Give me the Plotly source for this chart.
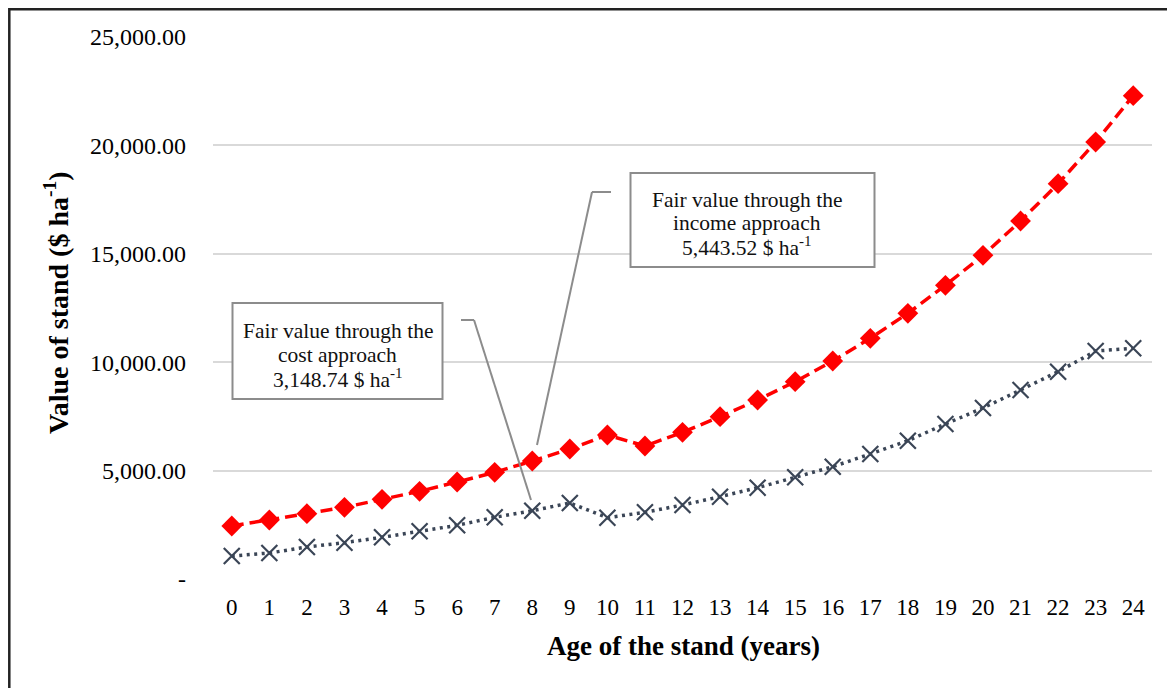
import plotly.graph_objects as go

ages = list(range(25))
income_values = [2445, 2721, 3012, 3305, 3675, 4044, 4474, 4920, 5443.52, 5996, 6642, 6135, 6766,
                 7487, 8256, 9101, 10055, 11101, 12254, 13546, 14930, 16513, 18234, 20157, 22293]
cost_values = [1061, 1199, 1476, 1676, 1922, 2199, 2476, 2845, 3148.74, 3506, 2829, 3075, 3413,
               3796, 4213, 4690, 5181, 5766, 6381, 7149, 7887, 8718, 9562, 10516, 10640]
y_tick_vals = [0, 5000, 10000, 15000, 20000, 25000]
y_tick_text = ["-", "5,000.00", "10,000.00", "15,000.00", "20,000.00", "25,000.00"]
income_label = ["Fair value through the", "income approach", "5,443.52 $ ha<sup>-1</sup>"]
cost_label = ["Fair value through the", "cost approach", "3,148.74 $ ha<sup>-1</sup>"]

OFF = 8  # page body margin
W, H = 1175 - OFF, 688 - OFF
L, R, T, B = 213 - OFF, 1152 - OFF, 37 - OFF, 579 - OFF


def px(x):
    return (x - OFF - L) / (R - L)


def py(y):
    return (B - (y - OFF)) / (B - T)


FONT = "Liberation Serif, Times New Roman, serif"

fig = go.Figure()
fig.add_trace(go.Scatter(
    x=ages, y=cost_values, mode="lines+markers", name="Cost approach",
    line=dict(color="#3a4556", width=3.5, dash="3px,4.5px"),
    marker=dict(symbol="x-thin-open", size=16, line=dict(color="#3a4556", width=2.2)),
))
fig.add_trace(go.Scatter(
    x=ages, y=income_values, mode="lines+markers", name="Income approach",
    line=dict(color="#ff0000", width=3.5, dash="12px,6px"),
    marker=dict(symbol="diamond", size=16, color="#ff0000"),
))

shapes = []
gray = "#8c8c8c"
# leader lines
shapes.append(dict(type="line", xref="paper", yref="paper", x0=px(592), y0=py(192), x1=px(611), y1=py(192),
                   line=dict(color=gray, width=2)))
shapes.append(dict(type="line", xref="paper", yref="paper", x0=px(592), y0=py(192), x1=px(537), y1=py(445),
                   line=dict(color=gray, width=2)))
shapes.append(dict(type="line", xref="paper", yref="paper", x0=px(461), y0=py(320), x1=px(474), y1=py(320),
                   line=dict(color=gray, width=2)))
shapes.append(dict(type="line", xref="paper", yref="paper", x0=px(474), y0=py(320), x1=px(531), y1=py(500),
                   line=dict(color=gray, width=2)))
# label boxes
shapes.append(dict(type="rect", xref="paper", yref="paper", x0=px(630.5), y0=py(267), x1=px(874.5), y1=py(173),
                   line=dict(color=gray, width=2), fillcolor="white"))
shapes.append(dict(type="rect", xref="paper", yref="paper", x0=px(232.5), y0=py(399), x1=px(442.5), y1=py(303),
                   line=dict(color=gray, width=2), fillcolor="white"))
# outer frame
shapes.append(dict(type="rect", xref="paper", yref="paper", x0=px(9.3), y0=py(720), x1=px(1200), y1=py(9.3),
                   line=dict(color="#222222", width=2.5), fillcolor="rgba(0,0,0,0)"))

annotations = []
for txt, yc in zip(income_label, [200, 223.5, 247]):
    annotations.append(dict(xref="paper", yref="paper", x=px(747), y=py(yc), xanchor="center", yanchor="middle",
                            text=txt, showarrow=False, font=dict(family=FONT, size=21.5, color="#111")))
for txt, yc in zip(cost_label, [331, 354.5, 378]):
    annotations.append(dict(xref="paper", yref="paper", x=px(337.5), y=py(yc), xanchor="center", yanchor="middle",
                            text=txt, showarrow=False, font=dict(family=FONT, size=21.5, color="#111")))
annotations += [
    dict(xref="paper", yref="paper", x=px(56), y=py(303), xanchor="center", yanchor="middle",
         text="<b>Value of stand ($ ha<sup>-1</sup>)</b>", textangle=-90, showarrow=False,
         font=dict(family=FONT, size=28, color="#000")),
    dict(xref="paper", yref="paper", x=px(683), y=py(646), xanchor="center", yanchor="middle",
         text="<b>Age of the stand (years)</b>", showarrow=False,
         font=dict(family=FONT, size=27, color="#000")),
]

fig.update_layout(
    width=W, height=H,
    margin=dict(l=L, r=W - R, t=T, b=H - B),
    paper_bgcolor="white", plot_bgcolor="white",
    showlegend=False,
    shapes=shapes, annotations=annotations,
    font=dict(family=FONT, color="#000"),
)
fig.update_xaxes(range=[-0.5, 24.5], tickmode="array", tickvals=ages, ticktext=[str(a) for a in ages],
                 showgrid=False, zeroline=False, showline=False, ticks="",
                 ticklabelstandoff=12, tickfont=dict(family=FONT, size=23, color="#000"))
fig.update_yaxes(range=[0, 25000], tickmode="array", tickvals=y_tick_vals, ticktext=y_tick_text,
                 showgrid=True, gridcolor="#d9d9d9", gridwidth=2, zeroline=False, showline=False,
                 ticks="", ticklabelstandoff=26, tickfont=dict(family=FONT, size=24, color="#000"))

fig.write_html("out.html")
